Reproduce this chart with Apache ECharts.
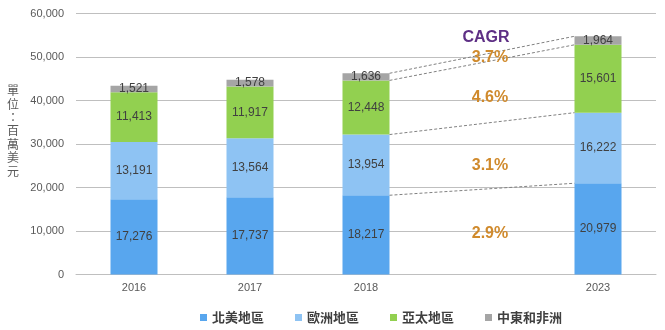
<!DOCTYPE html>
<html>
<head>
<meta charset="utf-8">
<script src="https://cdn.jsdelivr.net/npm/echarts@6/dist/echarts.min.js"></script>
<style>html,body{margin:0;padding:0;background:#fff}#c{width:665px;height:330px}</style>
</head>
<body>
<div id="c"></div>
<script>
var categories = ['2016', '2017', '2018', '', '2023'];
var seriesNames = ['北美地區', '歐洲地區', '亞太地區', '中東和非洲'];
var northAmerica = [17276, 17737, 18217, null, 20979];
var europe = [13191, 13564, 13954, null, 16222];
var asiaPacific = [11413, 11917, 12448, null, 15601];
var middleEastAfrica = [1521, 1578, 1636, null, 1964];
var yTicks = [0, 10000, 20000, 30000, 40000, 50000, 60000];
var cagrLabels = ['2.9%', '3.1%', '4.6%', '3.7%'];
var cagrLabelY = [9300, 25000, 40600, 49800];
var cagrTitle = 'CAGR';
var cagrTitleY = 54400;
var yAxisTitle = '單位：百萬美元';

var colors = ['#58A6EE', '#8EC3F3', '#92D050', '#A5A5A5'];
var allSeries = [northAmerica, europe, asiaPacific, middleEastAfrica];
var fontFam = '"Liberation Sans", Arial, sans-serif';

function cumTop(idx, upto) {
  var s = 0;
  for (var i = 0; i <= upto; i++) s += allSeries[i][idx];
  return s;
}
var connectorData = [];
for (var k = 0; k < 4; k++) connectorData.push([2, cumTop(2, k), 4, cumTop(4, k)]);

var chart = echarts.init(document.getElementById('c'));
var series = allSeries.map(function (d, i) {
  return {
    name: seriesNames[i], type: 'bar', stack: 'total', data: d, barWidth: 47,
    itemStyle: { color: colors[i] },
    label: { show: true, position: 'inside', color: '#404040', fontSize: 12, fontFamily: fontFam,
      formatter: function (p) { return p.value == null ? '' : p.value.toLocaleString('en-US'); } }
  };
});
series.push({
  type: 'custom', silent: true, data: connectorData, encode: { x: 0, y: 1 }, z: 5,
  renderItem: function (params, api) {
    var p1 = api.coord([api.value(0), api.value(1)]);
    var p2 = api.coord([api.value(2), api.value(3)]);
    var half = 47 / 2;
    return { type: 'line', shape: { x1: p1[0] + half, y1: p1[1], x2: p2[0] - half, y2: p2[1] },
      style: { stroke: '#808080', lineWidth: 1, lineDash: [3, 2] } };
  }
});
series.push({
  type: 'scatter', silent: true, symbolSize: 0, z: 10, itemStyle: { opacity: 1 },
  data: cagrLabels.map(function (t, i) { return { value: [3, cagrLabelY[i]], name: t }; }),
  label: { show: true, position: 'inside', offset: [8, 0], formatter: '{b}', color: '#D08A2C',
    fontSize: 16, fontWeight: 'bold', fontFamily: fontFam }
});
series.push({
  type: 'scatter', silent: true, symbolSize: 0, z: 10, itemStyle: { opacity: 1 },
  data: [{ value: [3, cagrTitleY], name: cagrTitle }],
  label: { show: true, position: 'inside', offset: [4, 0], formatter: '{b}', color: '#5E2F85',
    fontSize: 16, fontWeight: 'bold', fontFamily: fontFam }
});

chart.setOption({
  animation: false,
  grid: { left: 76, right: 9, top: 13.5, bottom: 55.5 },
  xAxis: {
    type: 'category', data: categories,
    axisLine: { lineStyle: { color: '#BFBFBF' } }, axisTick: { show: false },
    axisLabel: { color: '#595959', fontSize: 11, fontFamily: fontFam, margin: 8 }
  },
  yAxis: {
    type: 'value', min: yTicks[0], max: yTicks[yTicks.length - 1], interval: 10000,
    axisLine: { show: false }, axisTick: { show: false },
    splitLine: { lineStyle: { color: '#BFBFBF' } },
    axisLabel: { color: '#595959', fontSize: 11, fontFamily: fontFam, margin: 12,
      formatter: function (v) { return v.toLocaleString('en-US'); } }
  },
  legend: {
    data: seriesNames, left: 195, top: 306, icon: 'rect', itemWidth: 7, itemHeight: 7, itemGap: 31,
    textStyle: { color: '#404040', fontSize: 13, fontWeight: 'bold', fontFamily: '"Noto Sans CJK TC", sans-serif' }
  },
  graphic: [{
    type: 'text', left: 7, top: 84,
    style: { text: yAxisTitle.split('').join('\n'), fill: '#595959', fontSize: 12, lineHeight: 13.4,
      fontFamily: '"Noto Sans CJK TC", sans-serif', align: 'center' }
  }],
  series: series
});
</script>
</body>
</html>
